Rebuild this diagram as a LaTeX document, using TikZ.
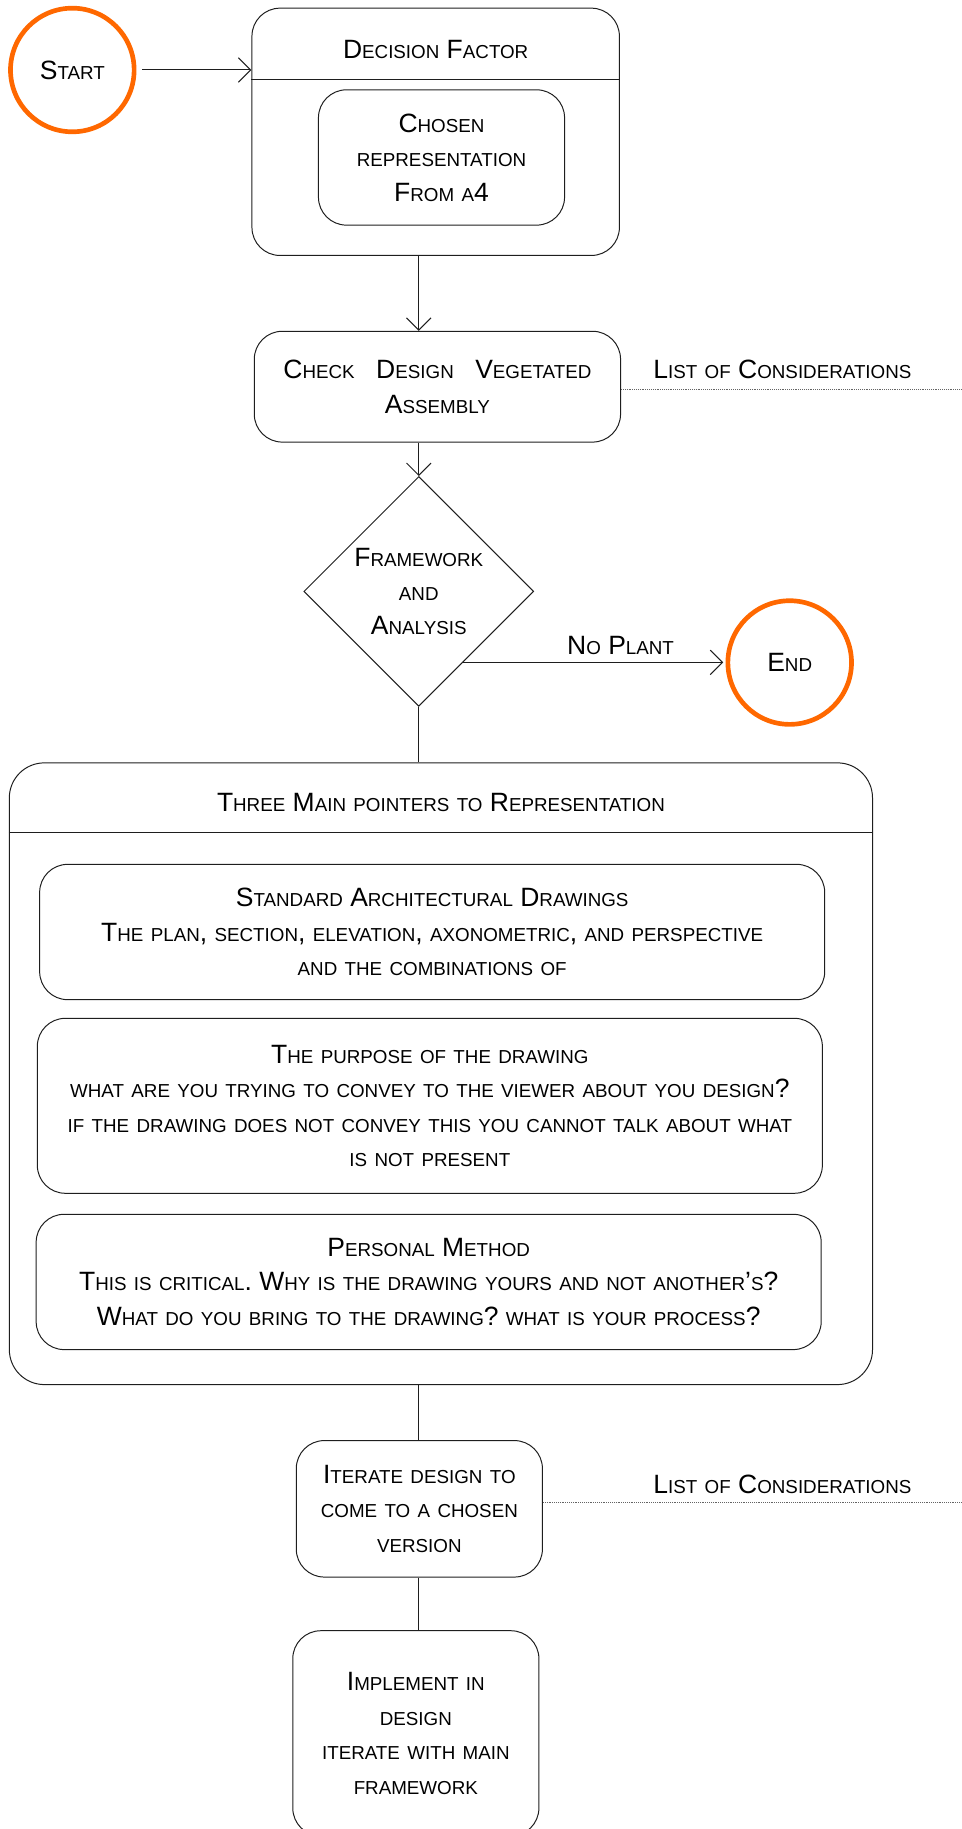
\documentclass[tikz,border=0pt]{standalone}
\usepackage{fontspec}
\setmainfont{Liberation Sans}
\usetikzlibrary{shapes.geometric,arrows.meta,calc}

\definecolor{ink}{RGB}{30,30,30}
\definecolor{accent}{RGB}{255,104,0}
\definecolor{dots}{RGB}{100,100,100}

% small capitals built from scaled-down uppercase letters
\ExplSyntaxOn
\seq_new:N \l_fsc_words_seq
\bool_new:N \l_fsc_first_bool
\cs_new_protected:Npn \fsc_char:N #1
 {
  \int_compare:nNnTF { `#1 } > { 96 }
   {
    \int_compare:nNnTF { `#1 } < { 123 }
     { { \fontsize{16.1}{29.5}\selectfont \text_uppercase:n {#1} } }
     { #1 }
   }
   { #1 }
 }
\cs_new_protected:Npn \fsc #1
 {
  \seq_set_split:Nnn \l_fsc_words_seq { ~ } {#1}
  \bool_set_true:N \l_fsc_first_bool
  \seq_map_inline:Nn \l_fsc_words_seq
   {
    \bool_if:NF \l_fsc_first_bool { \c_space_tl }
    \bool_set_false:N \l_fsc_first_bool
    \tl_map_inline:nn {##1} { \fsc_char:N ####1 }
   }
 }
\ExplSyntaxOff

\begin{document}
\begin{tikzpicture}[x=1pt,y=-1pt,
  every node/.style={font=\fontsize{22.7}{29.5}\selectfont, text=black},
  box/.style={draw=ink, line width=0.85pt, rounded corners=24pt, align=center, inner sep=0pt},
  terminal/.style={draw=accent, line width=4pt, circle, minimum size=106pt, inner sep=0pt},
  decision/.style={draw=ink, line width=0.85pt, diamond, aspect=1, minimum width=197pt, minimum height=197pt, inner sep=0pt, align=center},
  flow/.style={draw=ink, line width=0.85pt},
  arrowflow/.style={flow, -{Straight Barb[length=10.5pt,width=21pt,line width=0.9pt]}},
  note/.style={draw=dots, line width=0.8pt, dash pattern=on 0.8pt off 0.8pt},
  lbl/.style={anchor=west, inner sep=0pt}
]
\useasboundingbox (0,0) rectangle (824,1568);

% start and the decision-factor container
\node[terminal] (start) at (62,60) {\fsc{Start}};
\node[box, minimum width=315pt, minimum height=212pt] (df) at (373.5,113) {};
\coordinate (dfh) at (0,68);
\draw[flow] (df.west |- dfh) -- (df.east |- dfh);
\node (dftitle) at (373.5,42) {\fsc{Decision Factor}};
\node[box, minimum width=211pt, minimum height=116pt] (chosen) at (378.5,135) {\fsc{Chosen}\\\fsc{representation}\\\fsc{From a4}};

% check step
\node[box, minimum width=314pt, minimum height=95pt] (check) at (375,331.5) {\makebox[264pt][s]{\fsc{Check Design Vegetated}}\\\fsc{Assembly}};
\node[lbl] (cons1) at (560,317) {\fsc{List of Considerations}};
\coordinate (c1) at (824,333.5);

% decision and end
\node[decision] (dia) at (359,507) {\fsc{Framework}\\\fsc{and}\\\fsc{Analysis}};
\node[terminal] (end) at (677,568) {\fsc{End}};

% main container
\node[box, rounded corners=30pt, minimum width=740pt, minimum height=533pt] (main) at (378,920.5) {};
\coordinate (mh) at (0,714);
\draw[flow] (main.west |- mh) -- (main.east |- mh);
\node (maintitle) at (378,688) {\fsc{Three Main pointers to Representation}};

\node[box, minimum width=673pt, minimum height=116pt] (std) at (370.5,799) {\fsc{Standard Architectural Drawings}\\\fsc{The plan, section, elevation, axonometric, and perspective}\\\fsc{and the combinations of}};
\node[box, minimum width=673pt, minimum height=150pt] (purpose) at (368.5,948) {\fsc{The purpose of the drawing}\\\fsc{what are you trying to convey to the viewer about you design?}\\\fsc{if the drawing does not convey this you cannot talk about what}\\\fsc{is not present}};
\node[box, minimum width=673pt, minimum height=116pt] (method) at (367.5,1099) {\fsc{Personal Method}\\\fsc{This is critical. Why is the drawing yours and not another's?}\\\fsc{What do you bring to the drawing? what is your process?}};

% iteration and implementation
\node[box, minimum width=211pt, minimum height=117pt] (iter) at (359.5,1293.5) {\fsc{Iterate design to}\\\fsc{come to a chosen}\\\fsc{version}};
\node[lbl] (cons2) at (560,1272.5) {\fsc{List of Considerations}};
\coordinate (c2) at (824,1288);
\node[box, minimum width=211pt, minimum height=176pt] (impl) at (356.5,1486) {\fsc{Implement in}\\\fsc{design}\\\fsc{iterate with main}\\\fsc{framework}};

% connectors
\draw[arrowflow, shorten <=5pt] (start) -- (df.west |- start);
\draw[arrowflow] (df.south -| dia) -- (check.north -| dia);
\draw[arrowflow] (check.south -| dia) -- (dia.north);
\draw[arrowflow, shorten >=2pt] (dia.-58) -- node[pos=0.6, above=3pt] (noplant) {\fsc{No Plant}} (dia.-58 -| end.west);
\draw[flow] (dia.south) -- (main.north -| dia);
\draw[flow] (main.south -| dia) -- (iter.north -| dia);
\draw[flow] (iter.south -| dia) -- (impl.north -| dia);
\draw[note] (c1 -| check.east) -- (c1);
\draw[note] (c2 -| iter.east) -- (c2);
\end{tikzpicture}
\end{document}
